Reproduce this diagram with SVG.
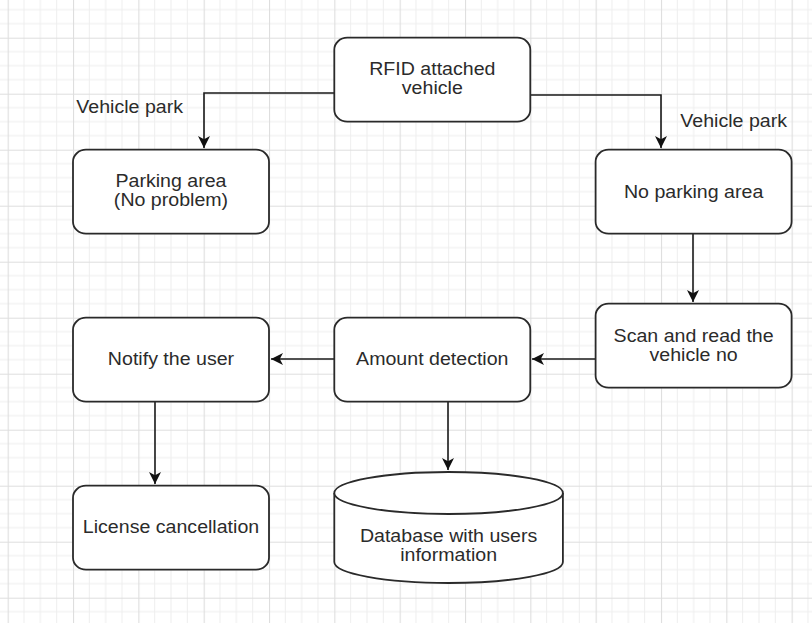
<svg xmlns="http://www.w3.org/2000/svg" width="812" height="623" viewBox="0 0 812 623">
<defs>
<pattern id="grid" patternUnits="userSpaceOnUse" x="7.67" y="37.7" width="65.33" height="56">
<path d="M16.33,0V56M32.67,0V56M49,0V56M0,14H65.33M0,28H65.33M0,42H65.33" stroke="#eeeeee" stroke-width="1" fill="none"/>
<path d="M0.5,0V56M0,0.5H65.33" stroke="#dedede" stroke-width="1.2" fill="none"/>
</pattern>
<marker id="arr" markerUnits="userSpaceOnUse" markerWidth="14" markerHeight="14" refX="12" refY="6" orient="auto">
<path d="M0,0 L12,6 L0,12 L3.2,6 Z" fill="#111"/>
</marker>
<style>
.box{fill:#fff;stroke:#2a2a2a;stroke-width:1.8}
.lbl{font-family:"Liberation Sans",Arial,sans-serif;font-size:17.5px;fill:#2b2b2b;text-anchor:middle}
.edge{fill:none;stroke:#1a1a1a;stroke-width:1.6;marker-end:url(#arr)}
</style>
</defs>
<rect width="812" height="623" fill="#fff"/>
<rect width="812" height="623" fill="url(#grid)"/>

<g id="connectors">
<path class="edge" d="M334,93 H204 V148"/>
<path class="edge" d="M530,95 H661 V148"/>
<path class="edge" d="M693,234 V302"/>
<path class="edge" d="M596,359 H532"/>
<path class="edge" d="M334,359 H271"/>
<path class="edge" d="M155,401 V484"/>
<path class="edge" d="M448,401 V470"/>
</g>

<g id="label-left">
<g transform="translate(129.7 0) scale(1.12 1)"><text class="lbl" x="0" y="113">Vehicle park</text></g>
</g>
<g id="label-right">
<g transform="translate(733.7 0) scale(1.12 1)"><text class="lbl" x="0" y="127.5">Vehicle park</text></g>
</g>

<g id="rfid">
<rect class="box" x="334.3" y="37.7" width="196" height="84" rx="13" ry="12"/>
<g transform="translate(432.3 0) scale(1.12 1)"><text class="lbl" x="0" y="75">RFID attached</text><text class="lbl" x="0" y="94.5">vehicle</text></g>
</g>

<g id="parking">
<rect class="box" x="73" y="149.7" width="196" height="84" rx="13" ry="12"/>
<g transform="translate(171 0) scale(1.12 1)"><text class="lbl" x="0" y="186.7">Parking area</text><text class="lbl" x="0" y="206">(No problem)</text></g>
</g>

<g id="noparking">
<rect class="box" x="595.6" y="149.7" width="196" height="84" rx="13" ry="12"/>
<g transform="translate(693.6 0) scale(1.12 1)"><text class="lbl" x="0" y="197.7">No parking area</text></g>
</g>

<g id="scan">
<rect class="box" x="595.6" y="303.7" width="196" height="84" rx="13" ry="12"/>
<g transform="translate(693.6 0) scale(1.12 1)"><text class="lbl" x="0" y="342">Scan and read the</text><text class="lbl" x="0" y="361.5">vehicle no</text></g>
</g>

<g id="amount">
<rect class="box" x="334.3" y="317.7" width="196" height="84" rx="13" ry="12"/>
<g transform="translate(432.3 0) scale(1.12 1)"><text class="lbl" x="0" y="365">Amount detection</text></g>
</g>

<g id="notify">
<rect class="box" x="73" y="317.7" width="196" height="84" rx="13" ry="12"/>
<g transform="translate(171 0) scale(1.12 1)"><text class="lbl" x="0" y="365">Notify the user</text></g>
</g>

<g id="license">
<rect class="box" x="73" y="485.7" width="196" height="84" rx="13" ry="12"/>
<g transform="translate(171 0) scale(1.12 1)"><text class="lbl" x="0" y="533">License cancellation</text></g>
</g>

<g id="database">
<path class="box" d="M334.3,493 V562 A114.3,21 0 0 0 562.9,562 V493"/>
<ellipse class="box" cx="448.6" cy="493" rx="114.3" ry="21"/>
<g transform="translate(448.6 0) scale(1.12 1)"><text class="lbl" x="0" y="541.7">Database with users</text><text class="lbl" x="0" y="561">information</text></g>
</g>
</svg>
